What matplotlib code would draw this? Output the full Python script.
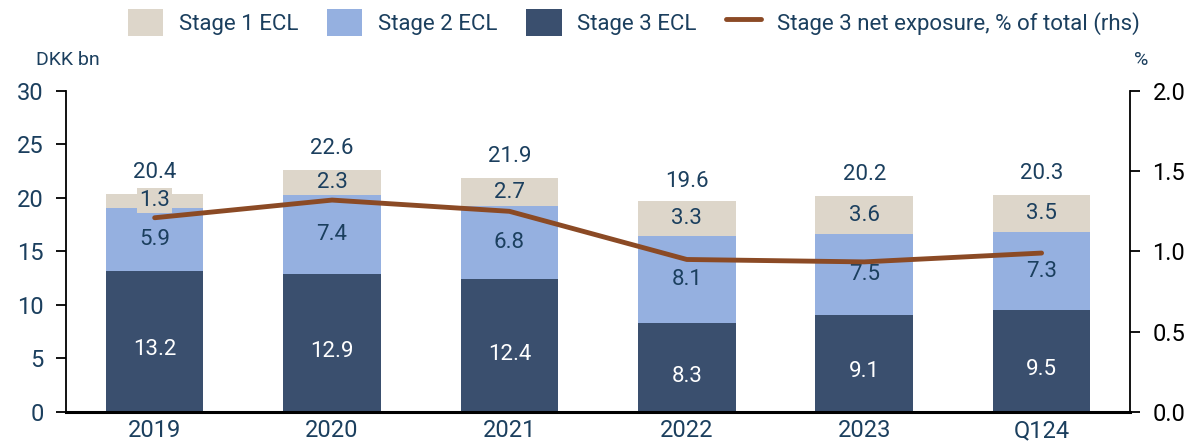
import matplotlib.pyplot as plt
import numpy as np

plt.rcParams['font.family'] = ['Roboto', 'DejaVu Sans']

categories = ['2019', '2020', '2021', '2022', '2023', 'Q124']
stage3 = [13.2, 12.9, 12.4, 8.3, 9.1, 9.5]
stage2 = [5.9, 7.4, 6.8, 8.1, 7.5, 7.3]
stage1 = [1.3, 2.3, 2.7, 3.3, 3.6, 3.5]
totals = [20.4, 22.6, 21.9, 19.6, 20.2, 20.3]
net_exposure = [1.21, 1.32, 1.25, 0.95, 0.935, 0.99]

c1 = '#ddd6ca'
c2 = '#95b0e0'
c3 = '#3a4f6e'
cline = '#8b4a25'
ctext = '#1b3f5e'

x = np.arange(len(categories))
s3 = np.array(stage3)
s2 = np.array(stage2)
s1 = np.array(stage1)

fig = plt.figure(figsize=(11.91, 4.46), dpi=100)
ax = fig.add_axes([0.0554, 0.0762, 0.8936, 0.72])
ax2 = ax.twinx()

w = 0.55
b1 = ax.bar(x, s1, w, bottom=s3 + s2, color=c1, label='Stage 1 ECL')
b2 = ax.bar(x, s2, w, bottom=s3, color=c2, label='Stage 2 ECL')
b3 = ax.bar(x, s3, w, color=c3, label='Stage 3 ECL')
ln, = ax2.plot(x, net_exposure, color=cline, lw=3.5, solid_capstyle='round',
               label='Stage 3 net exposure, % of total (rhs)')

for i in range(len(x)):
    ax.text(x[i], s3[i] / 2 - 0.8, f'{stage3[i]}', ha='center', va='center',
            color='white', fontsize=16)
    ax.text(x[i], s3[i] + s2[i] / 2, f'{stage2[i]}', ha='center', va='center',
            color=ctext, fontsize=16)
    ax.text(x[i], s3[i] + s2[i] + s1[i] / 2, f'{stage1[i]}', ha='center', va='center',
            color=ctext, fontsize=16,
            bbox=dict(facecolor=c1, edgecolor='none', pad=1.5))
    ax.text(x[i], totals[i] + 1.0, f'{totals[i]}', ha='center', va='bottom',
            color=ctext, fontsize=16)

ax.set_xlim(-0.5, 5.5)
ax.set_ylim(0, 30)
ax.set_yticks(np.arange(0, 31, 5))
ax2.set_ylim(0, 2.0)
ax2.set_yticks([0.0, 0.5, 1.0, 1.5, 2.0])
ax2.set_yticklabels(['0.0', '0.5', '1.0', '1.5', '2.0'])

ax.set_xticks(x)
ax.set_xticklabels(categories)
ax.tick_params(axis='x', length=0, labelsize=17, labelcolor=ctext, pad=5)
ax.tick_params(axis='y', direction='out', length=7, width=1.3, labelsize=17,
               labelcolor=ctext, pad=9)
ax2.tick_params(axis='y', direction='out', length=7, width=1.3, labelsize=17,
                labelcolor='black', pad=9)

for a in (ax, ax2):
    a.spines['top'].set_visible(False)
ax.spines['right'].set_visible(False)
ax.spines['left'].set_linewidth(1.3)
ax.spines['bottom'].set_linewidth(2.2)
ax2.spines['left'].set_visible(False)
ax2.spines['bottom'].set_visible(False)
ax2.spines['right'].set_linewidth(1.3)

fig.text(0.03, 0.845, 'DKK bn', color=ctext, fontsize=14, ha='left', va='bottom')
fig.text(0.958, 0.845, '%', color=ctext, fontsize=14, ha='center', va='bottom')

fig.legend([b1, b2, b3, ln], [b1.get_label(), b2.get_label(), b3.get_label(), ln.get_label()],
           loc='upper center', bbox_to_anchor=(0.532, 1.025), ncol=4, frameon=False,
           fontsize=16, labelcolor=ctext, handlelength=1.6, handleheight=1.5,
           columnspacing=1.3, handletextpad=0.7)

fig.savefig('out.png', dpi=100)
